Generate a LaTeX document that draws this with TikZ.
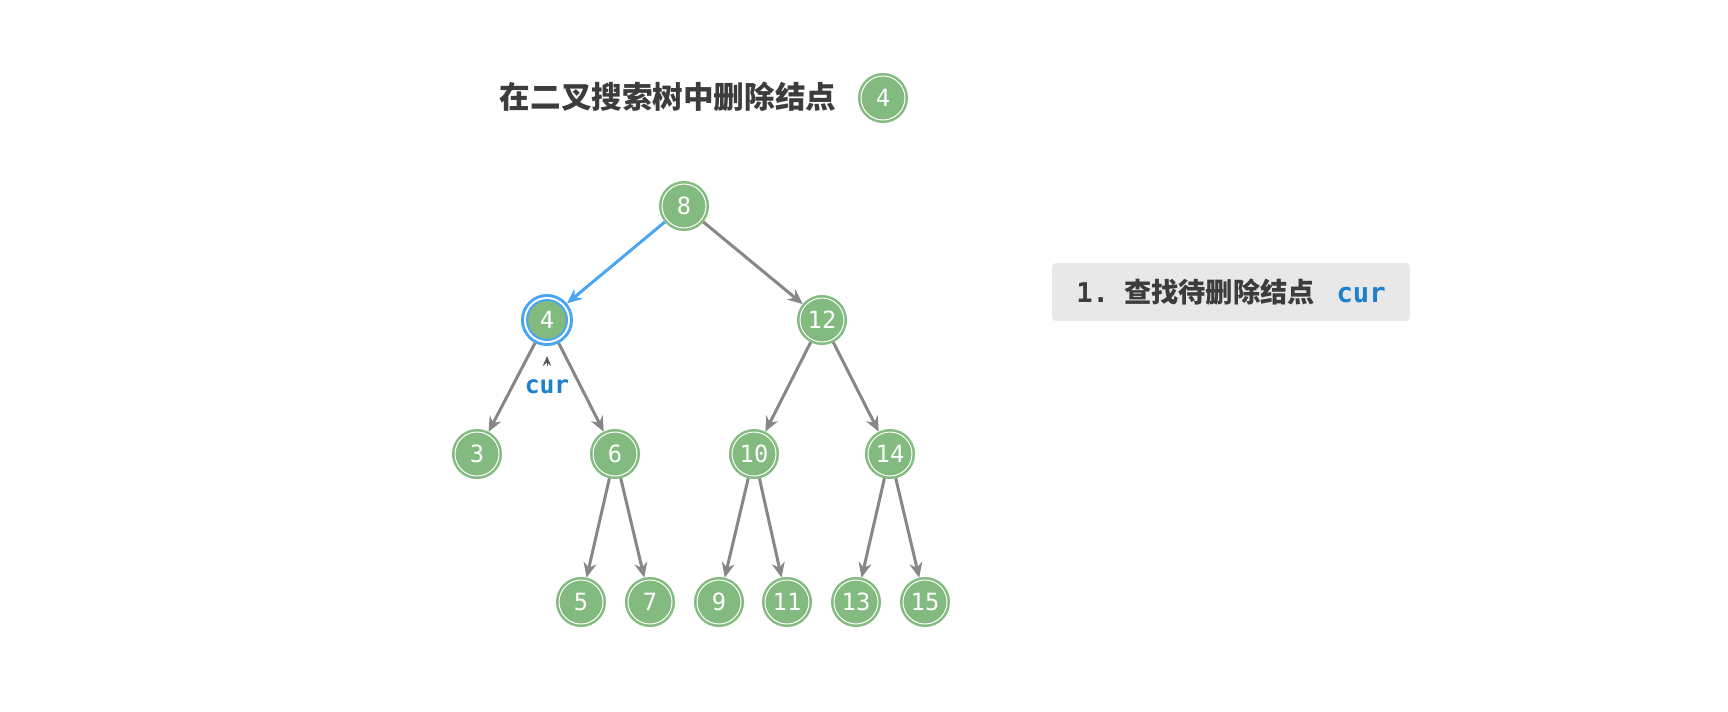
\documentclass[tikz,border=0pt]{standalone}
\usepackage{fontspec}
\newfontfamily\cjkfont{Noto Sans CJK SC}
\newfontfamily\codefont{DejaVu Sans Mono}
\usetikzlibrary{arrows.meta}

\definecolor{nodegreen}{RGB}{130,186,127}
\definecolor{edgegray}{RGB}{135,135,135}
\definecolor{ptrblue}{RGB}{74,166,238}
\definecolor{codeblue}{RGB}{28,128,205}
\definecolor{titlegray}{RGB}{60,60,60}
\definecolor{boxgray}{RGB}{232,232,232}

\begin{document}
\begin{tikzpicture}[
  x=0.02cm, y=-0.02cm,
  tnode/.style={circle, fill=nodegreen, draw=white, line width=0.02cm,
    minimum size=0.88cm, inner sep=0pt, outer sep=0.06cm,
    preaction={draw=nodegreen, line width=0.12cm},
    text=white, font=\codefont\fontsize{13.5}{13.5}\selectfont},
  curnode/.style={circle, fill=nodegreen, draw=ptrblue, line width=0.04cm,
    minimum size=0.80cm, inner sep=0pt, outer sep=0.12cm,
    preaction={draw=ptrblue, line width=0.06cm, double=white, double distance=0.12cm},
    text=white, font=\codefont\fontsize{13.5}{13.5}\selectfont},
  edge/.style={draw=edgegray, line width=0.06cm, -{Stealth[length=0.3cm, width=0.26cm]}},
  hledge/.style={edge, draw=ptrblue},
  tag/.style={font=\codefont\bfseries\fontsize{14}{14}\selectfont, text=codeblue, inner sep=0pt},
  stepbox/.style={fill=boxgray, rounded corners=0.08cm, minimum width=7.16cm,
    minimum height=1.16cm, inner sep=0pt, text=titlegray}
]
\useasboundingbox (0,0) rectangle (1728,711);

% title
\node[font=\cjkfont\bfseries\fontsize{17.4}{17.4}\selectfont, text=titlegray] (title) at (668,97) {在二叉搜索树中删除结点};
\node[tnode] (key) at (883,98) {4};

% tree
\node[tnode] (n8) at (684,206) {8};
\node[curnode] (n4) at (547,320) {4};
\node[tnode] (n12) at (822,320) {12};
\node[tnode] (n3) at (477,454) {3};
\node[tnode] (n6) at (615,454) {6};
\node[tnode] (n10) at (754,454) {10};
\node[tnode] (n14) at (890,454) {14};
\node[tnode] (n5) at (581,602) {5};
\node[tnode] (n7) at (650,602) {7};
\node[tnode] (n9) at (719,602) {9};
\node[tnode] (n11) at (787,602) {11};
\node[tnode] (n13) at (856,602) {13};
\node[tnode] (n15) at (925,602) {15};

\draw[hledge] (n8) -- (n4);
\draw[edge] (n8) -- (n12);
\draw[edge] (n4) -- (n3);
\draw[edge] (n4) -- (n6);
\draw[edge] (n12) -- (n10);
\draw[edge] (n12) -- (n14);
\draw[edge] (n6) -- (n5);
\draw[edge] (n6) -- (n7);
\draw[edge] (n10) -- (n9);
\draw[edge] (n10) -- (n11);
\draw[edge] (n14) -- (n13);
\draw[edge] (n14) -- (n15);

% pointer
\node[tag] (cur) at (547,387) {cur};
\coordinate (curtip) at (547,356);
\draw[draw=titlegray!85, line width=0.02cm, -{Stealth[length=0.2cm, width=0.17cm, inset=0.07cm]}] ([yshift=-0.2cm]curtip) -- (curtip);

% step
\node[stepbox] (step1) at (1231,292) {\codefont\bfseries\fontsize{15.5}{15.5}\selectfont 1.\hspace{0.55em}\cjkfont\bfseries 查找待删除结点\hspace{0.8em}\codefont\color{codeblue}cur};

\end{tikzpicture}
\end{document}
